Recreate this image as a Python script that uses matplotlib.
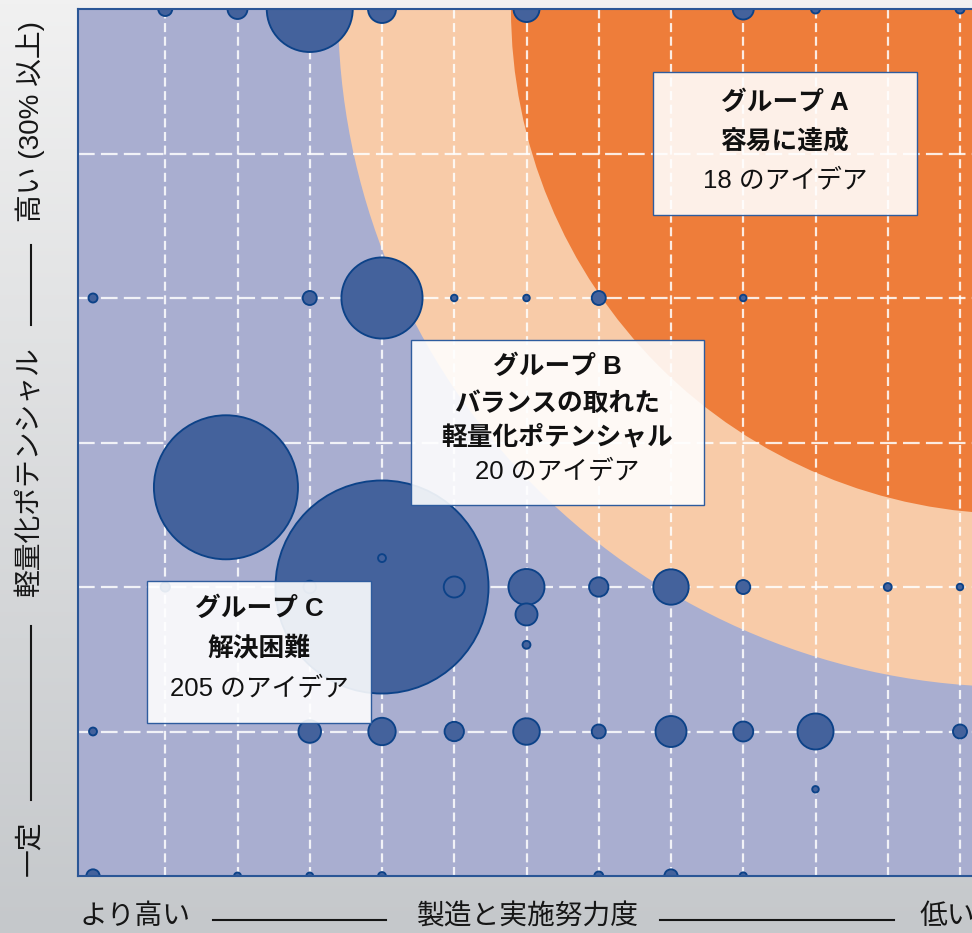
import numpy as np
import matplotlib
matplotlib.use('Agg')
import matplotlib.pyplot as plt
from matplotlib.patches import Ellipse, Rectangle
from matplotlib.lines import Line2D

plt.rcParams['font.family'] = ['Liberation Sans', 'Noto Sans CJK JP']
plt.rcParams['lines.scale_dashes'] = False

# ---------------- data ----------------
# x: manufacturing / implementation effort (grid column), y: lightweight potential (grid row)
effort = [1, 2, 3, 4, 6, 9, 10, 12,
          0, 3, 4, 5, 6, 7, 9,
          1.84,
          1, 3, 4, 5, 4, 6, 6, 6, 7, 8, 9, 11, 12,
          0, 3, 4, 5, 6, 7, 8, 9, 10, 12, 10,
          0, 2, 3, 4, 7, 8, 9]
potential = [6, 6, 6, 6, 6, 6, 6, 6,
             4, 4, 4, 4, 4, 4, 4,
             2.69,
             2, 2, 2, 2, 2.2, 2, 1.81, 1.6, 2, 2, 2, 2, 2,
             1, 1, 1, 1, 1, 1, 1, 1, 1, 1, 0.6,
             0, 0, 0, 0, 0, 0, 0]
ideas = [4.1, 8.3, 154, 16.3, 14.1, 9.2, 1.7, 1.7,
         1.7, 4.1, 137, 0.9, 0.9, 4.1, 0.9,
         432,
         1.8, 3.3, 945, 9.2, 1.3, 27, 10.1, 1.3, 7.8, 26.1, 4.1, 1.3, 0.9,
         1.3, 10.6, 15.6, 7.8, 14.7, 4.1, 20, 8.3, 27, 4.1, 0.9,
         3.7, 1.0, 1.0, 1.3, 1.7, 3.7, 1.1]

group_titles = ['グループ A', 'グループ B', 'グループ C']
group_desc = [['容易に達成'], ['バランスの取れた', '軽量化ポテンシャル'], ['解決困難']]
group_counts = [18, 20, 205]

x_label_parts = ['より高い', '製造と実施努力度', '低い']
y_label_parts = ['一定', '軽量化ポテンシャル', '高い (30% 以上)']

# ---------------- figure ----------------
W, H = 972, 933
fig = plt.figure(figsize=(W / 100, H / 100), dpi=100)

def fx(px):
    return px / W

def fy(py):
    return 1 - py / H

# gradient background
bg = fig.add_axes([0, 0, 1, 1], zorder=-5)
grad = np.linspace(0, 1, 256)[:, None]
top = np.array([241, 241, 241]) / 255
bot = np.array([197, 200, 203]) / 255
img = top[None, None, :] * (1 - grad[:, :, None]) + bot[None, None, :] * grad[:, :, None]
bg.imshow(img, aspect='auto', extent=[0, 1, 0, 1], origin='upper')
bg.set_axis_off()

# main axes (extends beyond the right edge of the picture)
left_px, right_px, top_px, bottom_px = 78, 1016, 9, 876
ax = fig.add_axes([fx(left_px), fy(bottom_px), (right_px - left_px) / W, (bottom_px - top_px) / H])
col_px = 72.25
x0 = -(93 - left_px) / col_px
x1 = (right_px - 93) / col_px
ax.set_xlim(x0, x1)
ax.set_ylim(0, 6)
ax.set_facecolor('#a9aed0')

# region shapes centred at top-right corner of plot area
peach = Ellipse((x1, 6), width=2 * 678 / col_px, height=2 * 678 / 144.5,
                facecolor='#f8cba8', edgecolor='none', zorder=0.5)
orange = Ellipse((x1, 6), width=2 * 505 / col_px, height=2 * 505 / 144.5,
                 facecolor='#ee7d3a', edgecolor='none', zorder=0.6)
ax.add_patch(peach)
ax.add_patch(orange)

# grid
for c in range(1, 13):
    ax.axvline(c, color='white', alpha=0.85, lw=1.6, linestyle=(0, (6.5, 3.3)), zorder=1)
for r in range(1, 6):
    ax.axhline(r, color='white', alpha=0.85, lw=1.6, linestyle=(0, (12, 4.5)), zorder=1)

# bubbles (largest first)
order = np.argsort(ideas)[::-1]
ex = np.array(effort)[order]
py_ = np.array(potential)[order]
sv = np.array(ideas)[order] * 24.9
ax.scatter(ex, py_, s=sv, facecolor='#44629c', edgecolor='#0c4288', linewidth=1.35, zorder=2)

ax.set_xticks([])
ax.set_yticks([])
for side in ['left', 'top', 'bottom']:
    ax.spines[side].set_color('#2a5696')
    ax.spines[side].set_linewidth(1.5)
ax.spines['right'].set_visible(False)

# group boxes (pixel layout)
def px2data(px, py):
    return (x0 + (px - left_px) / col_px, 6 - (py - top_px) / 144.5)

boxes = [(653, 72, 917, 215), (411, 340, 704, 505), (147, 581, 371, 723)]
line_y = [[103, 141, 180], [367, 404, 437, 471], [609, 648, 688]]
for i, (bx0, by0, bx1, by1) in enumerate(boxes):
    dx0, dy1 = px2data(bx0, by1)
    dx1, dy0 = px2data(bx1, by0)
    rect = Rectangle((dx0, dy1), dx1 - dx0, dy0 - dy1, facecolor='white', alpha=0.89,
                     edgecolor='none', zorder=3)
    ax.add_patch(rect)
    ax.add_patch(Rectangle((dx0, dy1), dx1 - dx0, dy0 - dy1, facecolor='none',
                           edgecolor='#2e5c9e', lw=1.0, zorder=3.1))
    cx = (bx0 + bx1) / 2
    lines = [(group_titles[i], 'bold')] + [(d, 'bold') for d in group_desc[i]] + \
            [(f'{group_counts[i]} のアイデア', 'normal')]
    for (txt, wt), ly in zip(lines, line_y[i]):
        tx, ty = px2data(cx, ly)
        ax.text(tx, ty, txt, ha='center', va='center', fontsize=18.5, fontweight=wt,
                color='#111111', zorder=4)

# x-axis label with rules
tc = '#161616'
fs = 20
fig.text(fx(135), fy(917), x_label_parts[0], ha='center', va='center', fontsize=fs, color=tc)
fig.text(fx(528), fy(917), x_label_parts[1], ha='center', va='center', fontsize=fs, color=tc)
fig.text(fx(919), fy(917), x_label_parts[2], ha='left', va='center', fontsize=fs, color=tc)
fig.add_artist(Line2D([fx(213), fx(386)], [fy(920), fy(920)], color=tc, lw=1.5))
fig.add_artist(Line2D([fx(660), fx(894)], [fy(920), fy(920)], color=tc, lw=1.5))

# y-axis label with rules
fig.text(fx(30), fy(848), y_label_parts[0], ha='center', va='center', rotation=90, fontsize=fs, color=tc)
fig.text(fx(30), fy(471), y_label_parts[1], ha='center', va='center', rotation=90, fontsize=fs, color=tc)
fig.text(fx(30), fy(121), y_label_parts[2], ha='center', va='center', rotation=90, fontsize=fs, color=tc)
fig.add_artist(Line2D([fx(31), fx(31)], [fy(626), fy(800)], color=tc, lw=1.5))
fig.add_artist(Line2D([fx(31), fx(31)], [fy(245), fy(325)], color=tc, lw=1.5))

fig.savefig('out.png', dpi=100)
